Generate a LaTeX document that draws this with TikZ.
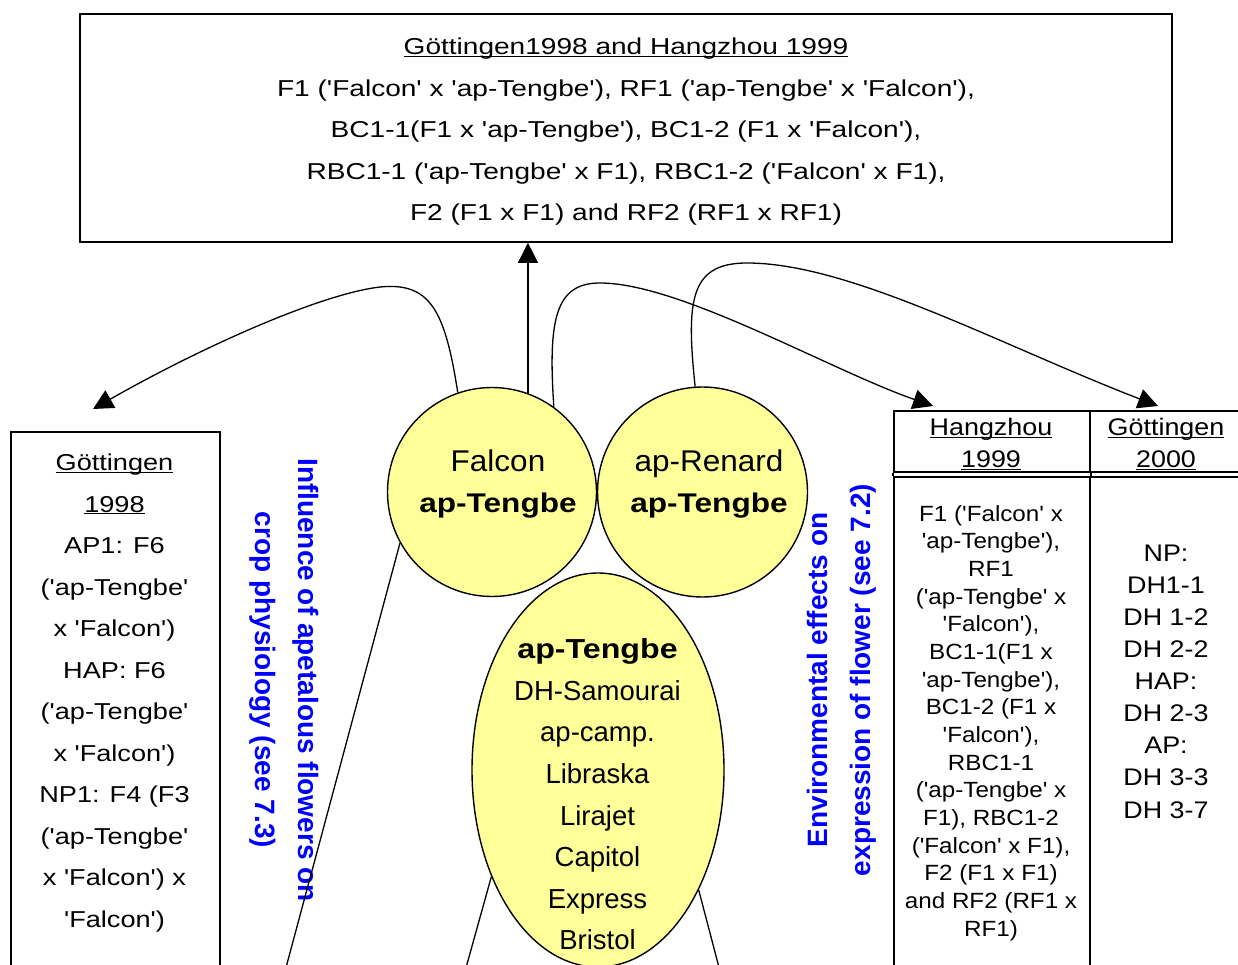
\documentclass[tikz,border=0pt]{standalone}
\usepackage{fontspec}
\setmainfont{Liberation Sans}
\newfontfamily\ftop{Liberation Sans}[FakeStretch=1.22,Ligatures=TeXOff]
\newfontfamily\fleft{Liberation Sans}[FakeStretch=1.18,Ligatures=TeXOff]
\newfontfamily\fcella{Liberation Sans}[FakeStretch=1.10,Ligatures=TeXOff]
\newfontfamily\fcellb{Liberation Sans}[FakeStretch=1.12,Ligatures=TeXOff]
\newfontfamily\fcirc{Liberation Sans}[FakeStretch=1.05,Ligatures=TeXOff]
\newfontfamily\fbold{Liberation Sans}[FakeStretch=1.17,Ligatures=TeXOff]
\newfontfamily\fell{Liberation Sans}[Ligatures=TeXOff]
\usetikzlibrary{arrows.meta,shapes.geometric}
\definecolor{circfill}{HTML}{FFFF99}
\definecolor{bluetxt}{HTML}{0000FF}
\newcommand\ul[1]{\vphantom{#1}\underline{\smash{#1}}}
\tikzset{
  box/.style={draw, line width=1.6pt, inner sep=0pt},
  cell/.style={draw, line width=1.8pt, inner sep=0pt},
  circ/.style={circle, draw, line width=1.4pt, fill=circfill, inner sep=0pt},
  conn/.style={line width=1.3pt, -{Triangle[length=20pt,width=20pt]}},
  plain/.style={line width=1.3pt},
  bluet/.style={text=bluetxt, align=center, font=\fell\bfseries\fontsize{28}{43}\selectfont},
}
\begin{document}
\begin{tikzpicture}[x=1pt,y=-1pt]
\useasboundingbox (0,0) rectangle (1238,965);
\clip (0,0) rectangle (1238,965);

% top box
\node[box, minimum width=1092pt, minimum height=228pt] (top) at (626,128) {};
\node[align=center, font=\ftop\fontsize{23}{41.5}\selectfont] (toptext) at (626,132)
  {\ul{Göttingen1998 and Hangzhou 1999}\\
   F1 ('Falcon' x 'ap-Tengbe'), RF1 ('ap-Tengbe' x 'Falcon'),\\
   BC1-1(F1 x 'ap-Tengbe'), BC1-2 (F1 x 'Falcon'),\\
   RBC1-1 ('ap-Tengbe' x F1), RBC1-2 ('Falcon' x F1),\\
   F2 (F1 x F1) and RF2 (RF1 x RF1)};

% left box
\node[box, anchor=north west, minimum width=209pt, minimum height=600pt] (gb) at (10,431) {};
\node[align=center, font=\fleft\fontsize{23}{41.5}\selectfont] (gbtext) at (114.5,693)
  {\ul{Göttingen}\\ \ul{1998}\\ AP1: F6\\ ('ap-Tengbe'\\ x 'Falcon')\\ HAP: F6\\
   ('ap-Tengbe'\\ x 'Falcon')\\ NP1: F4 (F3\\ ('ap-Tengbe'\\ x 'Falcon') x\\ 'Falcon')};

% right table
\node[cell, anchor=north west, minimum width=196pt, minimum height=61pt] (hzh) at (893,410) {};
\node[cell, anchor=north west, minimum width=154pt, minimum height=61pt] (gzh) at (1089,410) {};
\node[cell, anchor=north west, minimum width=196pt, minimum height=520pt] (hzb) at (893,476) {};
\node[cell, anchor=north west, minimum width=154pt, minimum height=520pt] (gzb) at (1089,476) {};
\draw[line width=1.8pt] (hzh.south west) -- (hzb.north west);
\draw[line width=1.8pt] (hzh.south east) -- (hzb.north east);
\node[align=center, font=\fcellb\fontsize{24}{32}\selectfont] (hzht) at (991,444) {\ul{Hangzhou}\\ \ul{1999}};
\node[align=center, font=\fcellb\fontsize{24}{32}\selectfont] (gzht) at (1166,444) {\ul{Göttingen}\\ \ul{2000}};
\node[align=center, font=\fcella\fontsize{22}{27.67}\selectfont] (hzbt) at (991,723)
  {F1 ('Falcon' x\\ 'ap-Tengbe'),\\ RF1\\ ('ap-Tengbe' x\\ 'Falcon'),\\ BC1-1(F1 x\\
   'ap-Tengbe'),\\ BC1-2 (F1 x\\ 'Falcon'),\\ RBC1-1\\ ('ap-Tengbe' x\\ F1), RBC1-2\\
   ('Falcon' x F1),\\ F2 (F1 x F1)\\ and RF2 (RF1 x\\ RF1)};
\node[align=center, font=\fcellb\fontsize{24}{32.1}\selectfont] (gzbt) at (1166,681.5)
  {NP:\\ DH1-1\\ DH 1-2\\ DH 2-2\\ HAP:\\ DH 2-3\\ AP:\\ DH 3-3\\ DH 3-7};

% circles and ellipse
\node[circ, minimum size=209pt] (falcon) at (492,492) {};
\node[circ, minimum size=210pt] (renard) at (702.5,492) {};
\node[ellipse, draw, line width=1.4pt, fill=circfill, inner sep=0pt,
      minimum width=252pt, minimum height=394pt] (ell) at (598,770) {};
\node[align=center, font=\fontsize{30}{41}\selectfont] (falcont) at (498,484)
  {\fcirc Falcon\\ \fbold\fontsize{27}{41}\selectfont\bfseries ap-Tengbe};
\node[align=center, font=\fontsize{30}{41}\selectfont] (renardt) at (709,484)
  {\fcirc ap-Renard\\ \fbold\fontsize{27}{41}\selectfont\bfseries ap-Tengbe};
\node[align=center, font=\fell\fontsize{27.5}{41.57}\selectfont] (ellt) at (597.5,794.5)
  {{\fbold\bfseries ap-Tengbe}\\ DH-Samourai\\ ap-camp.\\ Libraska\\ Lirajet\\ Capitol\\ Express\\ Bristol};

% blue rotated texts
\node[bluet, rotate=-90] (infl) at (284.5,680) {Influence of apetalous flowers on\\ crop physiology (see 7.3)};
\node[bluet, rotate=90] (env) at (842,680) {Environmental effects on\\ expression of flower (see 7.2)};

% connectors
\coordinate (t1) at (93,409);
\coordinate (t3) at (933,406);
\coordinate (t4) at (1158,406);
\draw[conn] (falcon.109) .. controls (445,310) and (430,282) .. (380,287)
  .. controls (320,294) and (200,348) .. (t1);
\draw[conn] (falcon.70) -- (falcon.70 |- top.south);
\draw[conn] (falcon.54) .. controls (548,320) and (555,283) .. (600,283)
  .. controls (680,283) and (830,370) .. (t3);
\draw[conn] (renard.94) .. controls (686,300) and (690,263) .. (747,263)
  .. controls (850,263) and (1000,345) .. (t4);

\coordinate (b1) at (284,975);
\coordinate (b2) at (464,975);
\coordinate (b3) at (721,975);
\draw[plain] (falcon.209) -- (b1);
\draw[plain] (ell.225) -- (b2);
\draw[plain] (ell.310) -- (b3);
\end{tikzpicture}
\end{document}
